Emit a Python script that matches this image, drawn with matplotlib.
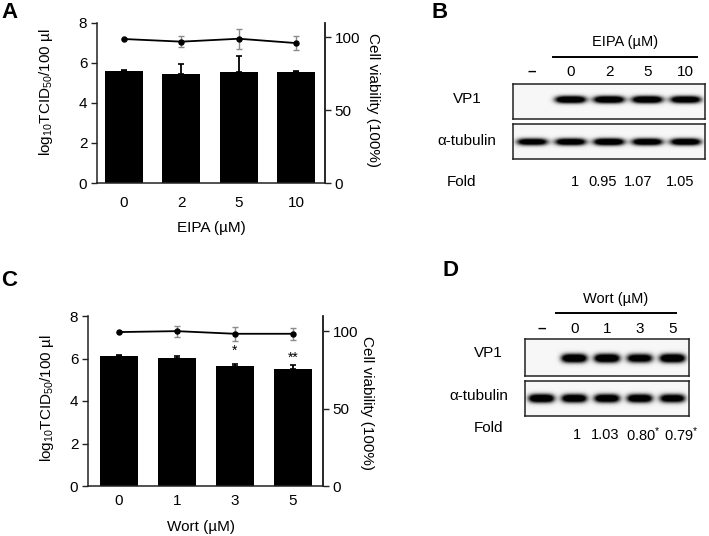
import matplotlib
matplotlib.use("Agg")
import matplotlib.pyplot as plt
import matplotlib.transforms as mtransforms
import numpy as np

plt.rcParams['font.family'] = ['Liberation Sans', 'DejaVu Sans']
plt.rcParams['mathtext.fontset'] = 'custom'
plt.rcParams['mathtext.rm'] = 'Liberation Sans'
plt.rcParams['mathtext.it'] = 'Liberation Sans:italic'
plt.rcParams['mathtext.bf'] = 'Liberation Sans:bold'

W, H = 709, 536

# panel A - EIPA titer / viability
eipa_doses = ["0", "2", "5", "10"]
eipa_titer = [5.60, 5.45, 5.54, 5.54]
eipa_titer_err = [0.03, 0.50, 0.80, 0.05]
eipa_viab = [98.8, 97.0, 99.0, 96.0]
eipa_viab_err = [0.0, 3.8, 7.0, 5.0]

# panel C - wortmannin titer / viability
wort_doses = ["0", "1", "3", "5"]
wort_titer = [6.13, 6.04, 5.66, 5.49]
wort_titer_err = [0.02, 0.08, 0.08, 0.20]
wort_viab = [99.6, 100.2, 98.5, 98.5]
wort_viab_err = [0.0, 3.5, 4.5, 4.0]
wort_stars = ["", "", "*", "**"]
wort_star_y = [0, 0, 6.35, 6.02]

# panel B / D - western blots (band strength per lane)
eipa_lanes = ["–", "0", "2", "5", "10"]
eipa_vp1 = [0.0, 1.0, 1.0, 1.0, 0.95]
eipa_tub = [0.9, 0.95, 1.0, 0.95, 0.95]
eipa_fold = ["", "1", "0.95", "1.07", "1.05"]
eipa_fold_shift = [0, 0.1, -0.16, -0.23, -0.16]

wort_lanes = ["–", "0", "1", "3", "5"]
wort_vp1 = [0.0, 1.0, 1.0, 0.9, 1.0]
wort_tub = [1.0, 0.95, 0.95, 0.95, 0.9]
wort_fold = ["", "1", "1.03", "0.80$^{*}$", "0.79$^{*}$"]
wort_fold_shift = [0, 0.09, -0.06, 0.12, 0.27]


def rect(l, t, r, b):
    return [l / W, 1 - b / H, (r - l) / W, (b - t) / H]


def fx(x):
    return x / W


def fy(y):
    return 1 - y / H


fig = plt.figure(figsize=(W / 100, H / 100), dpi=100)
SPINE = '#222222'


def bar_panel(rc, doses, titer, terr, viab, verr, xlim, tick_pad):
    ax = fig.add_axes(rc)
    x = np.arange(len(doses))
    ax.bar(x, titer, width=0.66, color='black',
           yerr=[np.zeros(len(terr)), terr],
           error_kw=dict(ecolor='black', elinewidth=1.3, capsize=2, capthick=1.2))
    ax.set_xlim(*xlim)
    ax.set_ylim(0, 8)
    ax.set_yticks([0, 2, 4, 6, 8])
    ax.set_xticks(x, doses)
    ax.tick_params(axis='x', length=0, pad=tick_pad, labelsize=11)
    ax.tick_params(axis='y', direction='out', length=4, width=1, labelsize=11, pad=3, color=SPINE)
    ax.spines['top'].set_visible(False)
    for s in ['left', 'bottom', 'right']:
        ax.spines[s].set_color(SPINE)
        ax.spines[s].set_linewidth(1.1)

    ax2 = ax.twinx()
    ax2.set_ylim(0, 110)
    ax2.set_yticks([0, 50, 100])
    ax2.tick_params(axis='y', direction='out', length=4, width=1, labelsize=11, pad=3, color=SPINE)
    for s in ['top', 'left', 'bottom']:
        ax2.spines[s].set_visible(False)
    ax2.spines['right'].set_color(SPINE)
    ax2.spines['right'].set_linewidth(1.1)
    ax2.errorbar(x, viab, yerr=verr, color='black', marker='o', ms=3.6, lw=1.3,
                 ecolor='#8c8c8c', elinewidth=1, capsize=2.5, capthick=1)
    return ax, ax2


# ---- panel A
axA, axA2 = bar_panel(rect(97, 22.7, 325, 183), eipa_doses, eipa_titer, eipa_titer_err,
                      eipa_viab, eipa_viab_err, (-0.47, 3.5), 9)
# ---- panel C
axC, axC2 = bar_panel(rect(88, 316, 323, 486), wort_doses, wort_titer, wort_titer_err,
                      wort_viab, wort_viab_err, (-0.53, 3.52), 6)
for i, s in enumerate(wort_stars):
    if s:
        axC.text(i, wort_star_y[i], s, ha='center', va='center', fontsize=10)

ylab = "log$_{10}$TCID$_{50}$/100 µl"
fig.text(fx(46), fy(92), ylab, rotation=90, ha='center', va='center', fontsize=11)
fig.text(fx(47), fy(398), ylab, rotation=90, ha='center', va='center', fontsize=11)
fig.text(fx(373), fy(100), "Cell viability (100%)", rotation=270, ha='center', va='center', fontsize=11)
fig.text(fx(367), fy(403), "Cell viability (100%)", rotation=270, ha='center', va='center', fontsize=11)
fig.text(fx(211), fy(228), "EIPA (µM)", ha='center', va='center', fontsize=11)
fig.text(fx(201), fy(527), "Wort (µM)", ha='center', va='center', fontsize=11)


# ---- blots
def blot(rc, inten, cy, bw, bh):
    ax = fig.add_axes(rc)
    n = len(inten)
    xs = np.linspace(-0.5, n - 0.5, 600)
    ys = np.linspace(0, 1, 120)
    X, Y = np.meshgrid(xs, ys)
    img = np.full(X.shape, 0.06)
    for i, a in enumerate(inten):
        img += 1.4 * a * np.exp(-(np.abs(X - i) / bw) ** 4) * np.exp(-((Y - cy) / bh) ** 2)
    ax.imshow(np.clip(img, 0, 1), cmap='Greys', vmin=0, vmax=1,
              extent=(-0.5, n - 0.5, 1, 0), aspect='auto', interpolation='bilinear')
    ax.set_xlim(-0.5, n - 0.5)
    ax.set_ylim(1, 0)
    ax.set_xticks([])
    ax.set_yticks([])
    for s in ax.spines.values():
        s.set_linewidth(1.1)
        s.set_color(SPINE)
    return ax


def blot_panel(l, r, vp1_tb, tub_tb, vp1, tub, lanes, fold, fold_shift, head, head_y, line_y,
               line_x, lane_y, fold_y, lab_x, vp1_y, tub_x, tub_y, foldlab_x, foldlab_y,
               bw, bh, cy):
    ax1 = blot(rect(l, vp1_tb[0], r, vp1_tb[1]), vp1, cy[0], bw, bh)
    ax2 = blot(rect(l, tub_tb[0], r, tub_tb[1]), tub, cy[1], bw, bh)
    tr = mtransforms.blended_transform_factory(ax1.transData, fig.transFigure)
    for i, lab in enumerate(lanes):
        if i == 0:
            ax1.text(i, fy(lane_y), lab, transform=tr, ha='center', va='center',
                     fontsize=11, fontweight='bold')
        else:
            ax1.text(i, fy(lane_y), lab, transform=tr, ha='center', va='center', fontsize=11)
    for i, f in enumerate(fold):
        if f:
            ax1.text(i + fold_shift[i], fy(fold_y), f, transform=tr, ha='center',
                     va='center', fontsize=10.5)
    ax1.plot(line_x, [fy(line_y)] * 2, transform=tr, color='black', lw=1.4, clip_on=False)
    ax1.text(np.mean(line_x), fy(head_y), head, transform=tr, ha='center', va='center', fontsize=10.5)
    fig.text(fx(lab_x), fy(vp1_y), "VP1", ha='center', va='center', fontsize=11)
    fig.text(fx(tub_x), fy(tub_y), "α-tubulin", ha='center', va='center', fontsize=11)
    fig.text(fx(foldlab_x), fy(foldlab_y), "Fold", ha='center', va='center', fontsize=11)


blot_panel(513, 705, (84, 119), (124, 159), eipa_vp1, eipa_tub, eipa_lanes, eipa_fold,
           eipa_fold_shift, "EIPA (µM)", 42, 57, [0.54, 4.29], 72, 182, 467, 99, 467, 141,
           462, 182, 0.42, 0.11, (0.46, 0.51))
blot_panel(525, 689, (339, 376), (381, 416), wort_vp1, wort_tub, wort_lanes, wort_fold,
           wort_fold_shift, "Wort (µM)", 299, 313, [0.45, 4.1], 329, 435, 488, 353, 479, 396,
           488, 428, 0.41, 0.13, (0.52, 0.51))

# panel letters
for lab, (x, y) in zip("ABCD", [(10, 13), (440, 12), (9, 280), (451, 270)]):
    fig.text(fx(x), fy(y), lab, ha='center', va='center', fontsize=16, fontweight='bold')

fig.savefig("out.png", dpi=100)
